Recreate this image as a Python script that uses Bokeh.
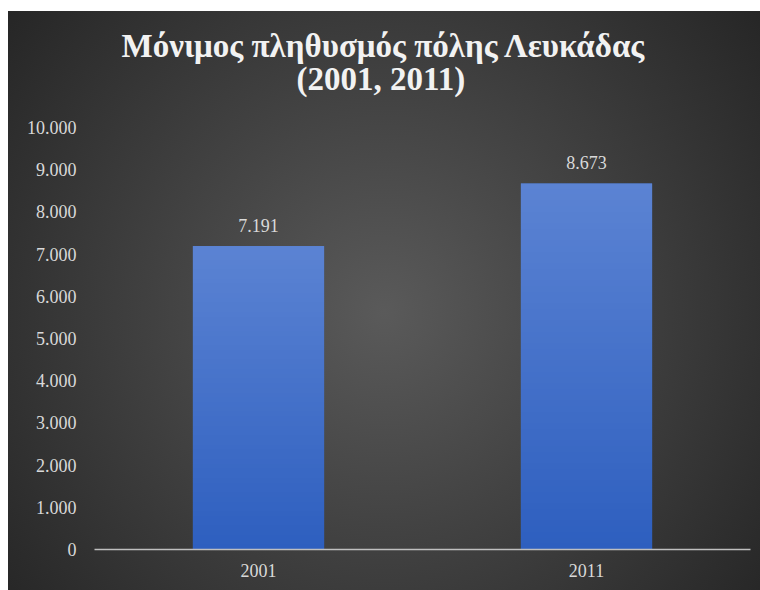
import numpy as np
from bokeh.plotting import figure
from bokeh.models import Range1d, FixedTicker, Title, ColumnDataSource
from bokeh.transform import dodge
from bokeh.embed import file_html
from bokeh.resources import INLINE
from bokeh.core.properties import value

# ---- data ----
years = ["2001", "2011"]
population = [7191, 8673]
value_labels = ["7.191", "8.673"]
y_ticks = [0, 1000, 2000, 3000, 4000, 5000, 6000, 7000, 8000, 9000, 10000]
y_tick_labels = ["0", "1.000", "2.000", "3.000", "4.000", "5.000",
                 "6.000", "7.000", "8.000", "9.000", "10.000"]
title_line1 = "Μόνιμος πληθυσμός πόλης Λευκάδας"
title_line2 = "(2001, 2011)"

FONT = "Liberation Serif"
LABEL_COLOR = "#d9d9d9"
TITLE_COLOR = "#f2f2f2"
BAR_W = 0.4


def gradient_column(top_rgb, bottom_rgb, n=64):
    """Vertical colour ramp (row 0 = bottom) packed as RGBA uint32."""
    t = np.linspace(0.0, 1.0, n)[:, None]
    top = np.array(top_rgb, dtype=float)
    bot = np.array(bottom_rgb, dtype=float)
    rgb = (bot + (top - bot) * t).round().astype(np.uint32)
    img = (255 << 24) | (rgb[:, 2] << 16) | (rgb[:, 1] << 8) | rgb[:, 0]
    return img.reshape(n, 1).astype(np.uint32)


grad = gradient_column((0x5B, 0x83, 0xD3), (0x2E, 0x5F, 0xBF))

src = ColumnDataSource(dict(year=years, pop=population, lab=value_labels,
                            img=[grad for _ in years]))

p = figure(width=752, height=579, x_range=years, y_range=Range1d(0, 10000),
           output_backend="svg", toolbar_location=None,
           min_border_left=86, min_border_right=10,
           min_border_top=116, min_border_bottom=41)

p.styles = {
    "background": "radial-gradient(circle farthest-corner at 50% 52%, #5a5a5a 0%, #262626 100%)",
    "margin-left": "8px",
    "margin-top": "11px",
}
p.border_fill_color = None
p.background_fill_color = None
p.outline_line_color = None
p.xgrid.visible = False
p.ygrid.visible = False

p.vbar(x="year", top="pop", width=BAR_W, source=src,
       fill_color="#4472c4", line_color=None)
p.image_rgba(image="img", x=dodge("year", -BAR_W / 2, range=p.x_range), y=0,
             dw=BAR_W, dh="pop", source=src)

p.text(x="year", y="pop", text="lab", source=src,
       text_font=value(FONT), text_font_size="18px", text_color=LABEL_COLOR,
       text_align="center", text_baseline="alphabetic", y_offset=-21)

# axes
p.yaxis.ticker = FixedTicker(ticks=y_ticks)
p.yaxis.major_label_overrides = {t: l for t, l in zip(y_ticks, y_tick_labels)}
p.yaxis.axis_line_color = None
p.yaxis.major_tick_line_color = None
p.yaxis.minor_tick_line_color = None
p.yaxis.major_tick_out = 0
p.yaxis.major_label_standoff = 18
p.yaxis.major_label_text_font = FONT
p.yaxis.major_label_text_font_size = "18px"
p.yaxis.major_label_text_color = LABEL_COLOR

p.xaxis.axis_line_color = "#bfbfbf"
p.xaxis.axis_line_width = 1.5
p.xaxis.major_tick_line_color = None
p.xaxis.major_tick_out = 0
p.xaxis.major_label_standoff = 14
p.xaxis.major_label_text_font = FONT
p.xaxis.major_label_text_font_size = "18px"
p.xaxis.major_label_text_color = LABEL_COLOR

# title: two lines stacked above the frame (later-added sits higher);
# an invisible spacer keeps the gap between the title and the plot area
title_style = dict(align="left", vertical_align="top", text_font=FONT,
                   text_font_size="33px", text_font_style="bold",
                   text_color=TITLE_COLOR)
spacer = Title(text=" ", standoff=-7.5, **title_style)
t2 = Title(text=title_line2, offset=202, standoff=-5, **title_style)
t1 = Title(text=title_line1, offset=27, standoff=-5, **title_style)
p.add_layout(spacer, "above")
p.add_layout(t2, "above")
p.add_layout(t1, "above")

open("out.html", "w").write(file_html(p, INLINE))
